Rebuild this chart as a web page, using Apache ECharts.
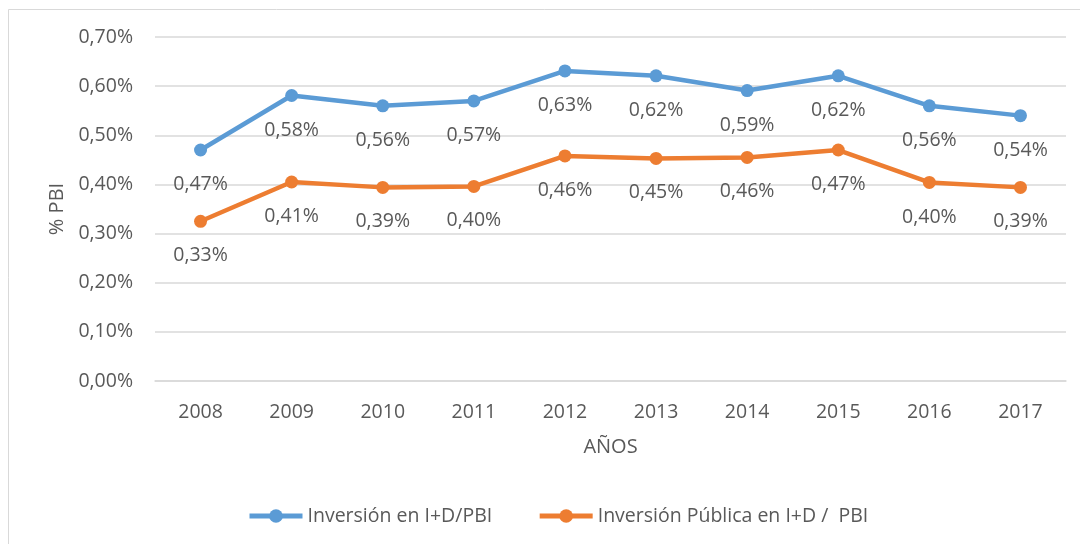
<!DOCTYPE html>
<html>
<head>
<meta charset="utf-8">
<script src="https://cdn.jsdelivr.net/npm/echarts@6/dist/echarts.min.js"></script>
<style>
html,body{margin:0;padding:0;background:#fff;}
#c{width:1080px;height:544px;}
</style>
</head>
<body>
<div id="c"></div>
<script>
var years = ['2008','2009','2010','2011','2012','2013','2014','2015','2016','2017'];
var totalValues = [0.470, 0.581, 0.560, 0.570, 0.631, 0.621, 0.591, 0.621, 0.560, 0.540];
var totalLabels = ['0,47%','0,58%','0,56%','0,57%','0,63%','0,62%','0,59%','0,62%','0,56%','0,54%'];
var publicValues = [0.325, 0.405, 0.394, 0.396, 0.458, 0.453, 0.455, 0.470, 0.404, 0.394];
var publicLabels = ['0,33%','0,41%','0,39%','0,40%','0,46%','0,45%','0,46%','0,47%','0,40%','0,39%'];
var yTicks = ['0,00%','0,10%','0,20%','0,30%','0,40%','0,50%','0,60%','0,70%'];
var seriesNames = ['Inversión en I+D/PBI', 'Inversión Pública en I+D /  PBI'];

var FONT = '"Open Sans", sans-serif';
var TXT = '#595959';
var chart = echarts.init(document.getElementById('c'));

function mk(name, vals, labels, color) {
  return {
    name: name,
    type: 'line',
    data: vals,
    symbol: 'circle',
    symbolSize: 13,
    lineStyle: { width: 4.5, color: color },
    itemStyle: { color: color },
    label: {
      show: true,
      position: 'bottom',
      distance: 18,
      color: TXT,
      fontFamily: FONT,
      fontSize: 19.5,
      formatter: function (p) { return labels[p.dataIndex]; }
    },
    emphasis: { disabled: true },
    animation: false
  };
}

chart.setOption({
  backgroundColor: '#fff',
  animation: false,
  graphic: [{
    type: 'rect',
    shape: { x: 8.5, y: 9.5, width: 1200, height: 700 },
    style: { fill: 'none', stroke: '#d9d9d9', lineWidth: 1 },
    silent: true, z: -10
  }],
  grid: { left: 155, right: 14, top: 37, bottom: 163 },
  legend: {
    data: seriesNames,
    bottom: 13,
    left: 242,
    itemWidth: 53,
    itemHeight: 17,
    itemGap: 45,
    lineStyle: { width: 5 },
    textStyle: { color: TXT, fontFamily: FONT, fontSize: 19.5 }
  },
  xAxis: {
    type: 'category',
    data: years,
    boundaryGap: true,
    name: 'AÑOS',
    nameLocation: 'middle',
    nameGap: 56,
    nameTextStyle: { color: TXT, fontFamily: FONT, fontSize: 20 },
    axisLine: { show: true, lineStyle: { color: '#d9d9d9', width: 1.5 } },
    axisTick: { show: false },
    axisLabel: { color: TXT, fontFamily: FONT, fontSize: 19.5, margin: 21 }
  },
  yAxis: {
    type: 'value',
    min: 0,
    max: 0.7,
    interval: 0.1,
    name: '% PBI',
    nameLocation: 'middle',
    nameGap: 88,
    nameTextStyle: { color: TXT, fontFamily: FONT, fontSize: 20 },
    axisLine: { show: false },
    axisTick: { show: false },
    splitLine: { lineStyle: { color: '#d9d9d9', width: 1.5 } },
    axisLabel: {
      color: TXT, fontFamily: FONT, fontSize: 19.5, margin: 22,
      formatter: function (v) { return yTicks[Math.round(v * 10)]; }
    }
  },
  series: [
    mk(seriesNames[0], totalValues, totalLabels, '#5b9bd5'),
    mk(seriesNames[1], publicValues, publicLabels, '#ed7d31')
  ]
});
</script>
</body>
</html>
